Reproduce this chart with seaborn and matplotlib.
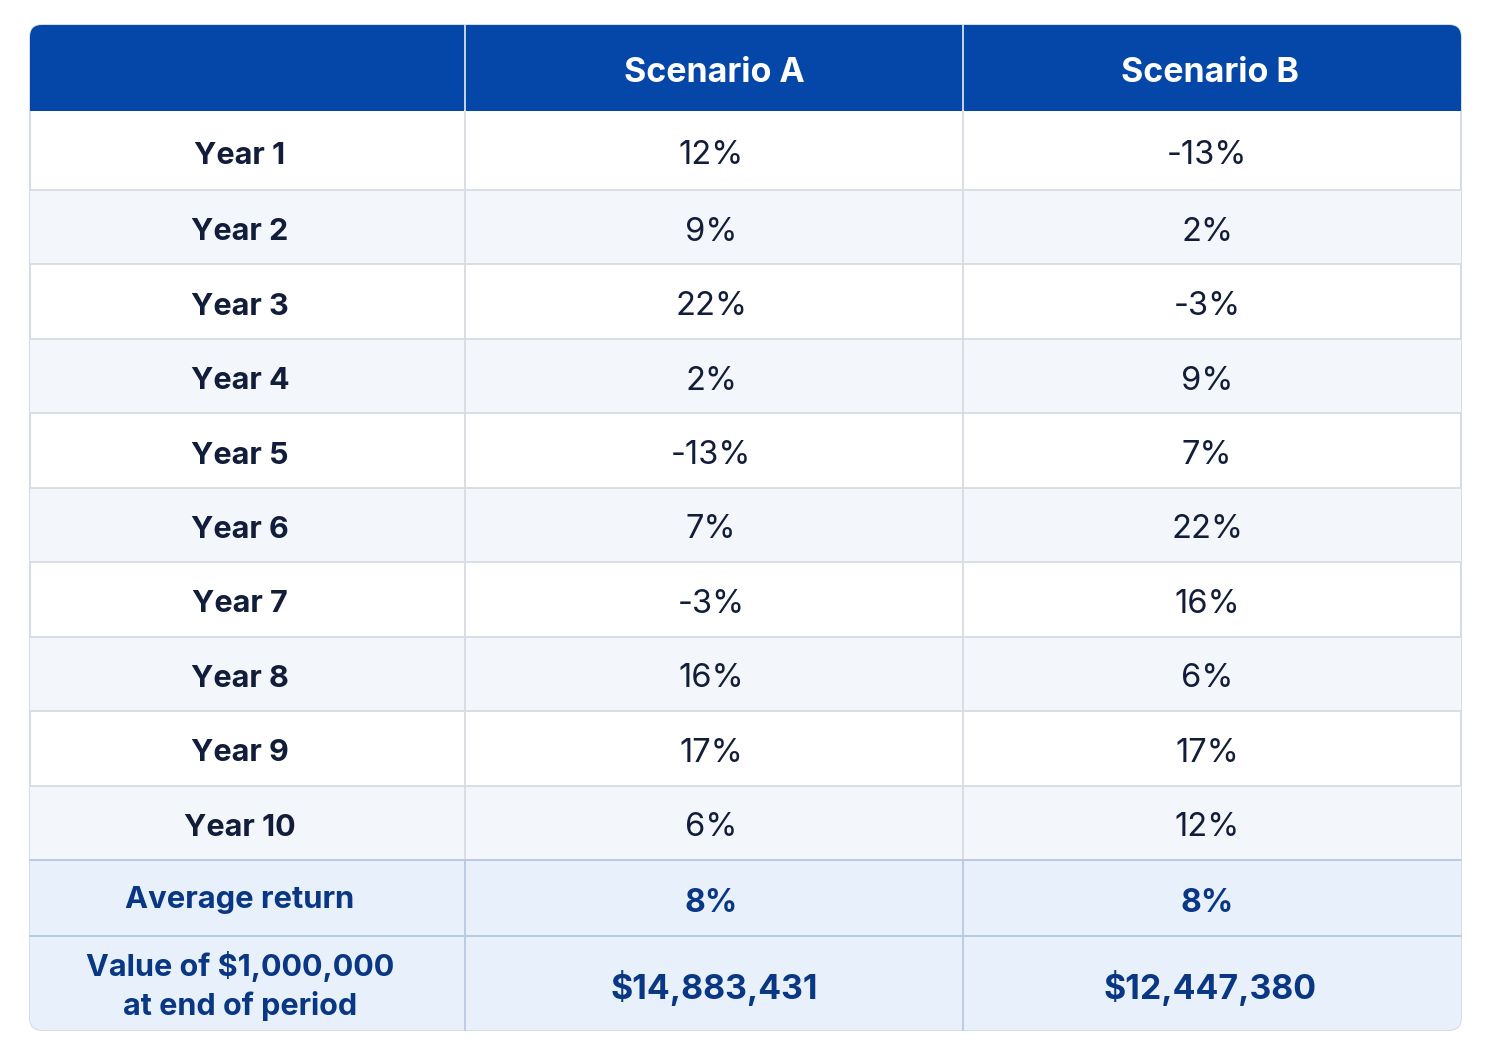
import matplotlib
matplotlib.use("Agg")
import matplotlib.pyplot as plt
from matplotlib.patches import Rectangle, FancyBboxPatch
import seaborn as sns

# table data
years = ["Year 1", "Year 2", "Year 3", "Year 4", "Year 5",
         "Year 6", "Year 7", "Year 8", "Year 9", "Year 10"]
scenario_a = [12, 9, 22, 2, -13, 7, -3, 16, 17, 6]
scenario_b = [-13, 2, -3, 9, 7, 22, 16, 6, 17, 12]
headers = ["", "Scenario A", "Scenario B"]
avg_label = "Average return"
avg_values = ["8%", "8%"]
end_label = "Value of $1,000,000\nat end of period"
end_values = ["$14,883,431", "$12,447,380"]

sns.set_theme(style="white")
plt.rcParams["font.family"] = ["Inter", "DejaVu Sans"]

W, H = 1491, 1055
fig = plt.figure(figsize=(W / 100, H / 100), dpi=100)
ax = fig.add_axes([0, 0, 1, 1])
ax.set_xlim(0, W)
ax.set_ylim(H, 0)
ax.axis("off")

# layout in pixels
left, right = 30, 1461
col_x = [left, 465, 963, right]
text_x = [240, 711, 1207]
top, head_bot = 25, 111
first_bot = 190
body_bot = 860
avg_bot = 936
tbl_bot = 1030
row_h = (body_bot - first_bot) / (len(years) - 1)
row_edges = [head_bot] + [first_bot + i * row_h for i in range(len(years))]

header_col = "#0447a8"
text_dark = "#111d3a"
text_blue = "#0a3784"
grid_col = "#d8dce2"
stripe = "#f3f6fb"
summary_bg = "#e8f0fb"
summary_line = "#b8c9e4"

outline = FancyBboxPatch((left, top), right - left, tbl_bot - top,
                         boxstyle="round,pad=0,rounding_size=12",
                         facecolor="white", edgecolor="#cdd5e1", lw=1.2, zorder=1)
ax.add_patch(outline)


def cell_bg(y0, y1, color, z=2):
    r = Rectangle((left, y0), right - left, y1 - y0, facecolor=color,
                  edgecolor="none", zorder=z)
    ax.add_patch(r)
    r.set_clip_path(outline)


# header
cell_bg(top, head_bot, header_col)
for i, h in enumerate(headers):
    ax.text(text_x[i] + (3 if i else 0), (top + head_bot) / 2 + 5, h, color="white",
            fontsize=24.5, fontweight="bold", ha="center", va="center", zorder=5)

# body rows
for r, (yr, a, b) in enumerate(zip(years, scenario_a, scenario_b)):
    y0, y1 = row_edges[r], row_edges[r + 1]
    if r % 2 == 1:
        cell_bg(y0, y1, stripe)
    cy = (y0 + y1) / 2 + 5
    ax.text(text_x[0], cy, yr, color=text_dark, fontsize=22,
            fontweight="bold", ha="center", va="center", zorder=5)
    for i, v in enumerate([a, b]):
        ax.text(text_x[i + 1], cy, f"{v}%", color=text_dark,
                fontsize=23.5, ha="center", va="center", zorder=5)
    if r < len(years) - 1:
        ax.plot([left, right], [y1, y1], color=grid_col, lw=1.3, zorder=3)

# summary rows
cell_bg(body_bot, tbl_bot, summary_bg)
ax.plot([left, right], [body_bot, body_bot], color=summary_line, lw=1.4, zorder=4)
ax.plot([left, right], [avg_bot, avg_bot], color=summary_line, lw=1.4, zorder=4)

cy = (body_bot + avg_bot) / 2
ax.text(text_x[0], cy + 2, avg_label, color=text_blue, fontsize=22.3,
        fontweight="bold", ha="center", va="center", zorder=5)
for i, v in enumerate(avg_values):
    ax.text(text_x[i + 1], cy + 5, v, color=text_blue,
            fontsize=23, fontweight="bold", ha="center", va="center", zorder=5)

cy = (avg_bot + tbl_bot) / 2
ax.text(text_x[0], cy + 3, end_label, color=text_blue, fontsize=22,
        fontweight="bold", ha="center", va="center", linespacing=1.35, zorder=5)
for i, v in enumerate(end_values):
    ax.text(text_x[i + 1] + 3, cy + 5, v, color=text_blue,
            fontsize=24.4, fontweight="bold", ha="center", va="center", zorder=5)

# column dividers
for x in col_x[1:3]:
    ax.plot([x, x], [top, head_bot], color="#e6ecf5", lw=1.2, zorder=4)
    ax.plot([x, x], [head_bot, body_bot], color=grid_col, lw=1.3, zorder=3)
    ax.plot([x, x], [body_bot, tbl_bot], color=summary_line, lw=1.3, zorder=4)

fig.savefig("out.png", dpi=100, facecolor="white")
